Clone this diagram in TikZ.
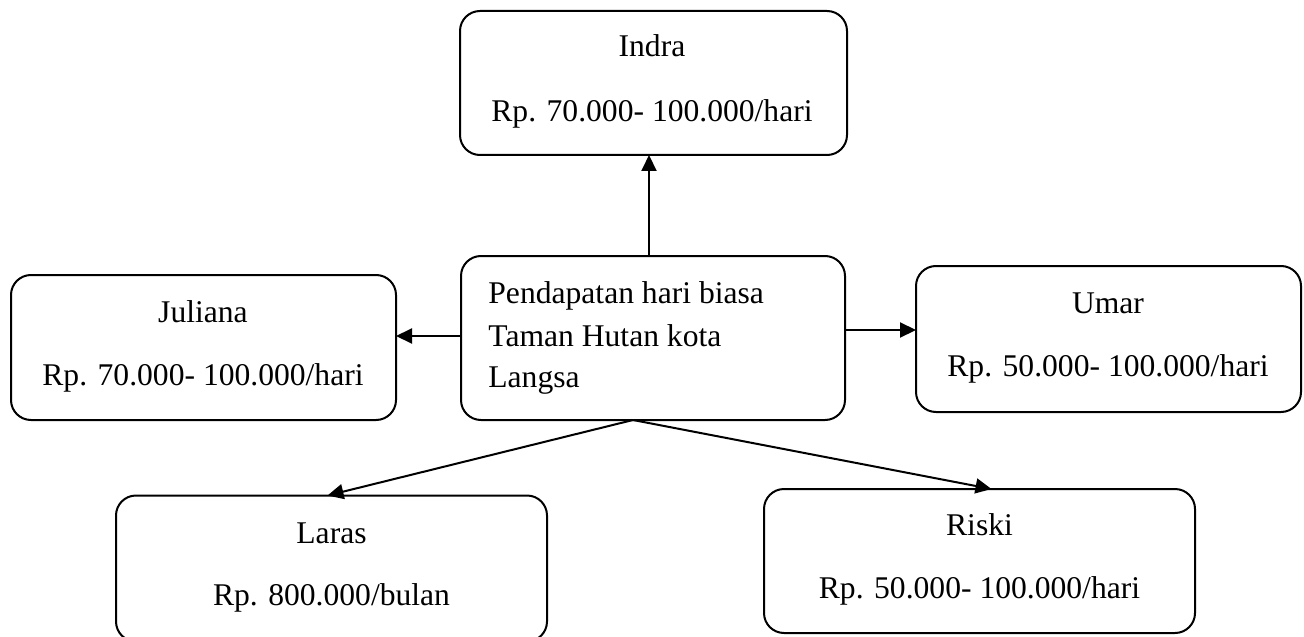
\documentclass[tikz,border=0pt]{standalone}
\usepackage{fontspec}
\setmainfont{Liberation Serif}
\usetikzlibrary{arrows.meta}

\begin{document}
\begin{tikzpicture}[x=0.5pt, y=-0.5pt,
  card/.style={draw=black, line width=1pt, rounded corners=10pt, fill=white,
    inner sep=0pt, outer sep=0pt},
  txt/.style={anchor=base, inner sep=0pt, font=\fontsize{15.8}{19}\selectfont},
  txtl/.style={txt, anchor=base west},
  link/.style={draw=black, line width=1pt, -{Triangle[length=8pt,width=7.5pt]}}]

  \useasboundingbox (0,0) rectangle (1304,636);

  % boxes
  \node[card, minimum width=193.5pt, minimum height=72pt]  (indra)   at (653.5,83)   {};
  \node[card, minimum width=192pt,   minimum height=82pt]  (pusat)   at (653,338)    {};
  \node[card, minimum width=192.5pt, minimum height=72.5pt](juliana) at (203.5,347.5){};
  \node[card, minimum width=192.5pt, minimum height=73pt]  (umar)    at (1108.5,339) {};
  \node[card, minimum width=215.5pt, minimum height=73pt]  (laras)   at (331.5,568.5){};
  \node[card, minimum width=215.5pt, minimum height=72pt]  (riski)   at (979.5,561)  {};

  % labels
  \node[txt] (indra-n) at (652,57)  {Indra};
  \node[txt] (indra-p) at (652,122) {Rp. 70.000- 100.000/hari};

  \node[txtl] (pusat-1) at (488,303) {Pendapatan hari biasa};
  \node[txtl] (pusat-2) at (488,346) {Taman Hutan kota};
  \node[txtl] (pusat-3) at (488,387) {Langsa};

  \node[txt] (juliana-n) at (203,322) {Juliana};
  \node[txt] (juliana-p) at (203,385) {Rp. 70.000- 100.000/hari};

  \node[txt] (umar-n) at (1108,313) {Umar};
  \node[txt] (umar-p) at (1108,376) {Rp. 50.000- 100.000/hari};

  \node[txt] (laras-n) at (331.5,543) {Laras};
  \node[txt] (laras-p) at (331.5,605) {Rp. 800.000/bulan};

  \node[txt] (riski-n) at (979.5,535) {Riski};
  \node[txt] (riski-p) at (979.5,598) {Rp. 50.000- 100.000/hari};

  % connectors
  \draw[link] ([xshift=-2pt]pusat.north) -- ([xshift=-2pt]pusat.north |- indra.south);
  \draw[link] ([yshift=1pt]pusat.west) -- ([yshift=1pt]pusat.west -| juliana.east);
  \draw[link] ([yshift=4pt]pusat.east) -- ([yshift=4pt]pusat.east -| umar.west);
  \draw[link] ([xshift=-10pt]pusat.south) -- ([xshift=-2pt]laras.north);
  \draw[link] ([xshift=-10pt]pusat.south) -- ([xshift=6pt]riski.north);
\end{tikzpicture}
\end{document}
